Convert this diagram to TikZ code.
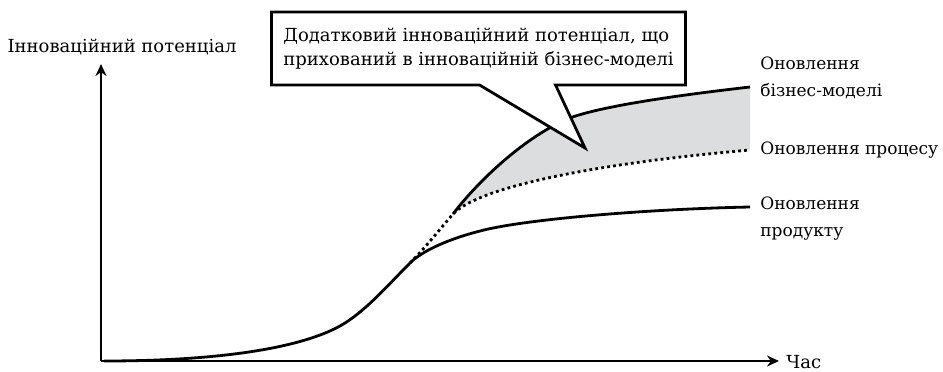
\documentclass[tikz,border=0pt]{standalone}
\usepackage{fontspec}
\setmainfont{DejaVu Serif}
\usepackage{tikz}
\usetikzlibrary{positioning}
\usetikzlibrary{arrows.meta}
\usetikzlibrary{shapes.callouts}

\definecolor{gapgray}{RGB}{220,221,222}

\tikzset{
    axis/.style={line width=1pt, -{Stealth[length=6pt, width=5.5pt]}},
    curve/.style={line width=1.4pt},
    dotline/.style={line width=1.4pt, dash pattern=on 1.4pt off 1.6pt},
    txt/.style={font=\fontsize{9}{13.5}\selectfont, inner sep=0pt, align=left},
    sidetxt/.style={txt, font=\fontsize{8.5}{13.5}\selectfont, anchor=west},
}

\begin{document}
\begin{tikzpicture}[x=0.5pt, y=-0.5pt]
    \useasboundingbox (0,0) rectangle (943,371);

    % Define points
    \coordinate (O) at (101,361);
    \coordinate (Y) at (101,64);
    \coordinate (T) at (779,361);
    \coordinate (fork) at (410,263);
    \coordinate (branch) at (453,214);
    \coordinate (bend) at (567,119);
    \coordinate (bizend) at (750,87);
    \coordinate (procend) at (750,150);
    \coordinate (prodend) at (750,207);
    \coordinate (tip) at (585,148);

    % Gap between the two upper curves
    \fill[gapgray] (branch) .. controls (475,185) and (520,140) .. (bend)
        .. controls (600,106) and (680,95) .. (bizend) -- (procend)
        .. controls (600,163) and (480,186) .. (branch) -- cycle;

    % Draw curves
    \draw[curve] (104,361) .. controls (220,361) and (300,348) .. (340,326)
        .. controls (365,312) and (388,285) .. (fork)
        .. controls (421,252) and (445,240) .. (480,231)
        .. controls (525,219) and (650,209) .. (prodend);
    \draw[dotline] (fork) .. controls (425,248) and (440,229) .. (branch)
        .. controls (480,186) and (600,163) .. (procend);
    \draw[curve] (branch) .. controls (475,185) and (520,140) .. (bend)
        .. controls (600,106) and (680,95) .. (bizend);

    % Draw axes
    \draw[axis] (O) -- (Y);
    \draw[axis] (O) -- (T);

    % Labels
    \node[txt] (ylabel) at (122,47) {Інноваційний потенціал};
    \node[txt, anchor=west] (tlabel) at (786,362) {Час};
    \node[sidetxt] (bizlabel) at (760,78) {Оновлення\\бізнес-моделі};
    \node[sidetxt] (proclabel) at (760,150) {Оновлення процесу};
    \node[sidetxt] (prodlabel) at (760,219) {Оновлення\\продукту};

    % Callout
    \node[rectangle callout, draw, line width=1.4pt, fill=white,
          font=\fontsize{9}{12}\selectfont, align=left,
          minimum width=205.5pt, minimum height=36.5pt, inner xsep=6pt,
          callout absolute pointer=(tip), callout pointer width=38pt] (note) at (478.5,48.5)
        {Додатковий інноваційний потенціал, що\\прихований в інноваційній бізнес-моделі};
\end{tikzpicture}
\end{document}
